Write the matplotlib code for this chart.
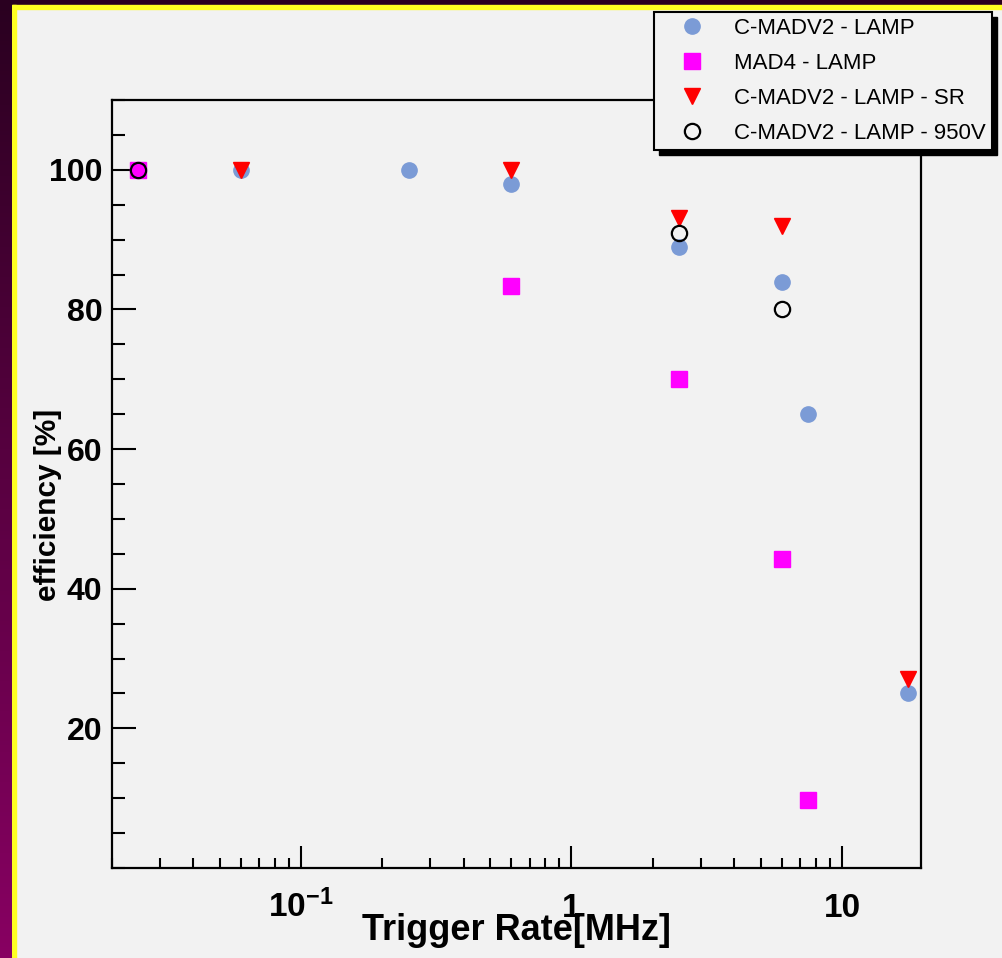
import numpy as np
import matplotlib
matplotlib.use("Agg")
import matplotlib.pyplot as plt
from matplotlib.patches import Rectangle
from matplotlib.ticker import MultipleLocator, LogLocator, NullFormatter

plt.rcParams['font.family'] = ['Liberation Sans', 'DejaVu Sans']
plt.rcParams['mathtext.fontset'] = 'custom'
plt.rcParams['mathtext.rm'] = 'Liberation Sans:bold'
plt.rcParams['mathtext.bf'] = 'Liberation Sans:bold'
plt.rcParams['mathtext.it'] = 'Liberation Sans:bold'

# data
cmad_x = [0.025, 0.06, 0.25, 0.6, 2.5, 6.0, 7.5, 17.5]
cmad_y = [100, 100, 100, 98, 89, 84, 65, 25]

mad4_x = [0.025, 0.6, 2.5, 6.0, 7.5]
mad4_y = [100, 83.3, 70.1, 44.3, 9.7]

sr_x = [0.06, 0.6, 2.5, 6.0, 17.5]
sr_y = [100, 100, 93.1, 92, 27.1]

v950_x = [0.025, 2.5, 6.0]
v950_y = [100, 90.9, 80]

xtick_vals = [0.1, 1, 10]
xtick_labels = [r'$10^{-1}$', '1', '10']
ytick_vals = [20, 40, 60, 80, 100]

bg = '#f2f2f2'
W, H = 1002, 958
fig = plt.figure(figsize=(W / 100, H / 100), dpi=100, facecolor=bg)

# window decoration: dark band on top, purple gradient on the left, yellow edge
fig.add_artist(Rectangle((0, 1 - 5 / H), 1, 5 / H, transform=fig.transFigure,
                         color='#2a0020', zorder=-5))
fig.add_artist(Rectangle((12 / W, 1 - 9 / H), 1, 4 / H, transform=fig.transFigure,
                         color='#ffff22', zorder=-5))
fig.add_artist(Rectangle((12 / W, 0), 3.5 / W, 1 - 5 / H, transform=fig.transFigure,
                         color='#ffff22', zorder=-5))
gax = fig.add_axes([0, 0, 12 / W, 1])
grad = np.linspace(0, 1, 256).reshape(-1, 1)
cmap = matplotlib.colors.LinearSegmentedColormap.from_list('side', ['#2a0020', '#880062'])
gax.imshow(grad, aspect='auto', cmap=cmap, extent=[0, 1, 1, 0])
gax.axis('off')

ax = fig.add_axes([112 / W, 1 - 868 / H, 809 / W, 768 / H])
ax.set_facecolor(bg)

ax.plot(cmad_x, cmad_y, 'o', color='#7b9bd6', ms=11, mec='#7b9bd6',
        label='C-MADV2 - LAMP', zorder=3)
ax.plot(mad4_x, mad4_y, 's', color='#ff00ff', ms=11.5, mec='#ff00ff',
        label='MAD4 - LAMP', zorder=4)
ax.plot(sr_x, sr_y, 'v', color='#ff0000', ms=12, mec='#ff0000',
        label='C-MADV2 - LAMP - SR', zorder=5)
ax.plot(v950_x, v950_y, 'o', mfc='none', mec='black', ms=11, mew=1.6,
        label='C-MADV2 - LAMP - 950V', zorder=6)

ax.set_xscale('log')
ax.set_xlim(0.02, 19.6)
ax.set_ylim(0, 110)

ax.set_xticks(xtick_vals, labels=xtick_labels)
ax.xaxis.set_minor_locator(LogLocator(base=10, subs=np.arange(2, 10)))
ax.xaxis.set_minor_formatter(NullFormatter())
ax.set_yticks(ytick_vals)
ax.yaxis.set_minor_locator(MultipleLocator(5))

for s in ['left', 'bottom', 'right', 'top']:
    ax.spines[s].set_linewidth(1.6)
ax.tick_params(axis='y', which='major', direction='in', length=17, width=1.5,
               labelsize=23, pad=7, right=False)
ax.tick_params(axis='y', which='minor', direction='in', length=9.5, width=1.5, right=False)
ax.tick_params(axis='x', which='major', direction='in', length=16, width=1.5,
               labelsize=24, pad=35, top=False)
ax.tick_params(axis='x', which='minor', direction='in', length=7.5, width=1.5, top=False)
for lab in ax.get_xticklabels() + ax.get_yticklabels():
    lab.set_fontweight('bold')
for lab in ax.get_xticklabels():
    lab.set_va('baseline')

ax.set_xlabel('Trigger Rate[MHz]', fontsize=26, fontweight='bold')
ax.xaxis.set_label_coords(0.5, -0.081)
ax.xaxis.label.set_va('center')
ax.set_ylabel('efficiency [%]', fontsize=21.5, fontweight='bold')
ax.yaxis.set_label_coords(-0.079, 0.473)
ax.yaxis.label.set_va('center')

handles, labels = ax.get_legend_handles_labels()
leg = fig.legend(handles, labels, loc='upper right',
                 bbox_to_anchor=(992 / W, 1 - 12 / H), borderaxespad=0,
                 fontsize=16, frameon=True, fancybox=False, facecolor=bg,
                 edgecolor='black', framealpha=1, labelspacing=0.62,
                 handlelength=2.8, handletextpad=0.5, borderpad=0.28,
                 numpoints=1)
leg.get_frame().set_linewidth(1.5)
leg.set_zorder(10)

fig.canvas.draw()
bb = leg.get_window_extent()
fig.add_artist(Rectangle((bb.x0 + 5, bb.y0 - 5), bb.width, bb.height,
                         transform=None, color='black', zorder=9))

fig.savefig('out.png', dpi=100, facecolor=bg)
